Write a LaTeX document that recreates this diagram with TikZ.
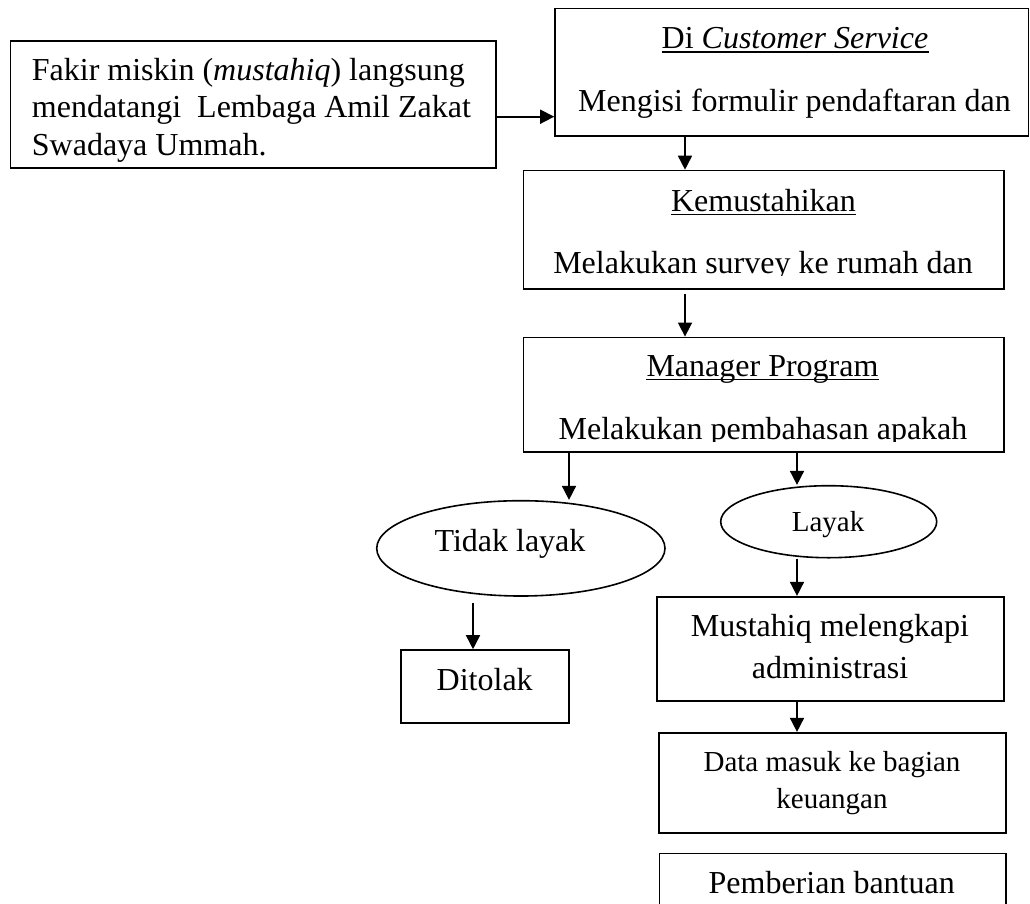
\documentclass[tikz,border=0pt]{standalone}
\usepackage{fontspec}
\setmainfont{Liberation Serif}
\usetikzlibrary{arrows.meta,shapes.geometric}
\begin{document}
\begin{tikzpicture}[x=1pt,y=-1pt,
  box/.style={draw, line width=1.6pt, inner sep=0pt, rectangle},
  oval/.style={draw, ellipse, line width=1.6pt, inner sep=0pt},
  txt/.style={inner sep=0pt, anchor=base, font=\fontsize{32}{37}\selectfont},
  txtl/.style={txt, anchor=base west},
  txts/.style={txt, font=\fontsize{29}{34}\selectfont},
  arr/.style={line width=1.6pt, -{Triangle[length=14pt,width=14pt]}},
  uline/.style={line width=1.5pt}]
\useasboundingbox (0,0) rectangle (1030,903);
\clip (0,0) rectangle (1030,903);

% boxes
\node[box, minimum width=485.5pt, minimum height=127.3pt] (fakir) at (253.25,104.35) {};
\node[box, minimum width=473.5pt, minimum height=127.5pt] (cs) at (791.75,72.25) {};
\node[box, minimum width=480.7pt, minimum height=118.5pt] (kem) at (763.65,229.75) {};
\node[box, minimum width=480.7pt, minimum height=114.6pt] (mgr) at (763.65,394.7) {};
\node[oval, minimum width=288.3pt, minimum height=95.3pt] (tidak) at (520.85,548.35) {};
\node[oval, minimum width=216pt, minimum height=72pt] (layak) at (828.7,521.7) {};
\node[box, minimum width=168.3pt, minimum height=72.7pt] (ditolak) at (484.85,686.35) {};
\node[box, minimum width=347pt, minimum height=104pt] (must) at (830.5,648.7) {};
\node[box, minimum width=346.7pt, minimum height=100.3pt] (data) at (832.35,782.85) {};
\node[box, minimum width=346.7pt, minimum height=76.7pt] (pemb) at (832.65,891.65) {};

% texts
\node[txtl] (fak1) at (31.7,80) {Fakir miskin (\textit{mustahiq}) langsung};
\node[txtl] (fak2) at (31.7,117.5) {mendatangi\ \ Lembaga Amil Zakat};
\node[txtl] (fak3) at (31.7,155) {Swadaya Ummah.};

\node[txt] (cs1) at (795,48.5) {Di \textit{Customer Service}};
\draw[uline] ([yshift=-3.5pt]cs1.base west) -- ([yshift=-3.5pt]cs1.base east);
\node[txt] (cs2) at (794.5,111) {Mengisi formulir pendaftaran dan};

\node[txt] (kem1) at (763.5,211) {Kemustahikan};
\draw[uline] ([yshift=-3.5pt]kem1.base west) -- ([yshift=-3.5pt]kem1.base east);
\begin{scope}
  \clip (523,171) rectangle (1004,275.5);
  \node[txt] (kem2) at (763,273.5) {Melakukan survey ke rumah dan};
\end{scope}

\node[txt] (mgr1) at (762.5,376) {Manager Program};
\draw[uline] ([yshift=-3.5pt]mgr1.base west) -- ([yshift=-3.5pt]mgr1.base east);
\begin{scope}
  \clip (523,338) rectangle (1004,441);
  \node[txt] (mgr2) at (763,439) {Melakukan pembahasan apakah};
\end{scope}

\node[txt] (tid) at (510,551.5) {Tidak layak};
\node[txts] (lay) at (828,531.7) {Layak};
\node[txt] (dit) at (484.7,690.7) {Ditolak};
\node[txt] (must1) at (830,636.7) {Mustahiq melengkapi};
\node[txt] (must2) at (830,678.3) {administrasi};
\node[txts] (data1) at (832,771.7) {Data masuk ke bagian};
\node[txts] (data2) at (832,808.3) {keuangan};
\node[txt] (pemb1) at (831.7,893.3) {Pemberian bantuan};

% connector helper coordinates
\coordinate (ay) at (0,116.7);
\coordinate (xa) at (685,0);
\coordinate (xb) at (569,0);
\coordinate (xc) at (797,0);
\coordinate (xd) at (473,0);

% connectors
\draw[arr] (fakir.east |- ay) -- (cs.west |- ay);
\draw[arr] (cs.south -| xa) -- (kem.north -| xa);
\draw[arr] ([yshift=-4pt]kem.south -| xa) -- (mgr.north -| xa);
\draw[arr] (mgr.south -| xb) -- (tidak.north -| xb);
\draw[arr] (mgr.south -| xc) -- (layak.north -| xc);
\draw[arr] ([yshift=-6pt]tidak.south -| xd) -- (ditolak.north -| xd);
\draw[arr] (layak.south -| xc) -- (must.north -| xc);
\draw[arr] (must.south -| xc) -- (data.north -| xc);
\end{tikzpicture}
\end{document}
